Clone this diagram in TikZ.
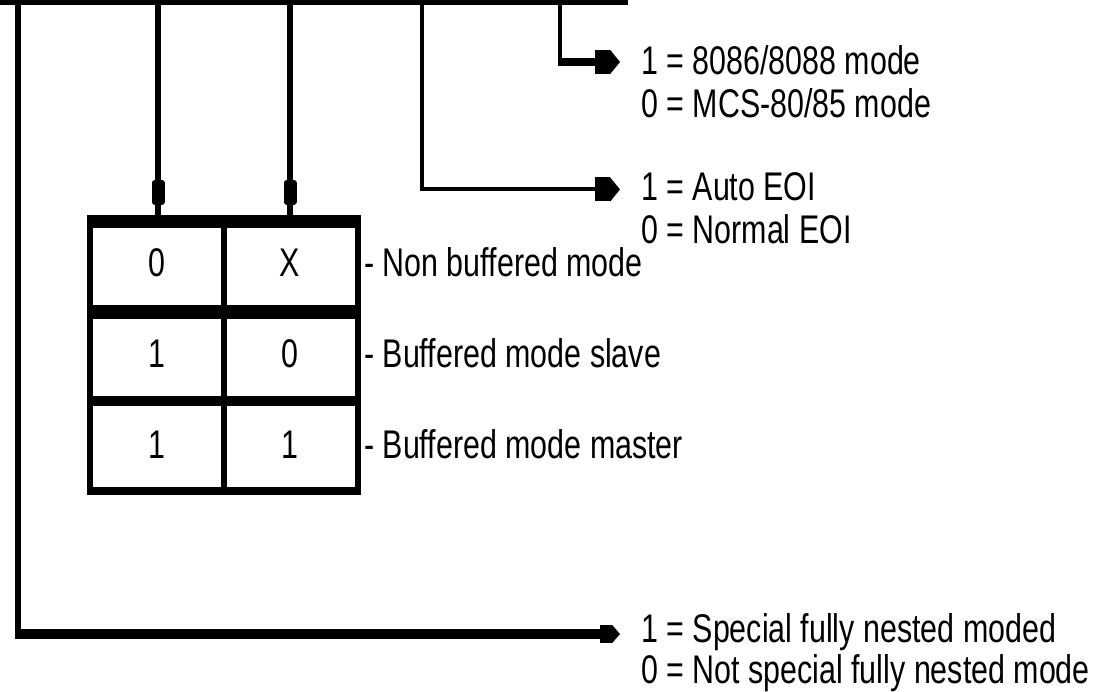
\documentclass[tikz,border=0pt]{standalone}
\usepackage{fontspec}
\setmainfont{Liberation Sans}[FakeStretch=0.76]
\usetikzlibrary{arrows.meta,decorations.markings}
\begin{document}
\begin{tikzpicture}[x=1pt,y=-1pt,
  txt/.style={inner sep=0pt, anchor=base west, font=\fontsize{40}{44}\selectfont},
  celltxt/.style={inner sep=0pt, anchor=base, font=\fontsize{40}{44}\selectfont},
  hhead/.style={-{Rectangle[length=15pt,width=24pt]Triangle[length=10pt,width=24pt]}},
  vfeed/.style={line width=6pt, postaction={decorate},
    decoration={markings, mark=at position -10pt with {\arrow{Rectangle[length=25pt,width=13pt,round]}}}}
]
\useasboundingbox (0,0) rectangle (1099,692);
\fill[white] (0,0) rectangle (1099,692);

% bus and its taps
\coordinate (busL) at (0,2.75);
\coordinate (busR) at (628,2.75);
\coordinate (tap1) at (18,0);
\coordinate (tap2) at (158,0);
\coordinate (tap3) at (290,0);
\coordinate (tap4) at (422,0);
\coordinate (tap5) at (560,0);
\draw[line width=5.5pt] (busL) -- (busR);

% table
\node[inner sep=0pt, minimum width=274pt, minimum height=280pt] (tbl) at (224,355) {};
\draw[line width=13pt] (87,221.5) -- (361,221.5);
\draw[line width=14pt] (87,312) -- (361,312);
\draw[line width=10pt] (87,401) -- (361,401);
\draw[line width=8pt] (87,491) -- (361,491);
\draw[line width=6pt] (90,215) -- (90,495);
\draw[line width=6pt] (224,215) -- (224,495);
\draw[line width=6pt] (358,215) -- (358,495);

\node[celltxt] (c11) at (157,277) {0};
\node[celltxt] (c12) at (290,277) {X};
\node[celltxt] (c21) at (157,367) {1};
\node[celltxt] (c22) at (290,367) {0};
\node[celltxt] (c31) at (157,458) {1};
\node[celltxt] (c32) at (290,458) {1};

\node[txt] (m1) at (364,277) {- Non buffered mode};
\node[txt] (m2) at (364,367) {- Buffered mode slave};
\node[txt] (m3) at (364,458) {- Buffered mode master};

% feeds into table
\draw[vfeed] (tap2) -- (tap2 |- tbl.north);
\draw[vfeed] (tap3) -- (tap3 |- tbl.north);

% right labels
\node[txt] (l1a) at (641,75) {1 = 8086/8088 mode};
\node[txt] (l1b) at (641,118) {0 = MCS-80/85 mode};
\node[txt] (l2a) at (641,201) {1 = Auto EOI};
\node[txt] (l2b) at (641,244) {0 = Normal EOI};
\node[txt] (l3a) at (641,642) {1 = Special fully nested moded};
\node[txt] (l3b) at (641,683) {0 = Not special fully nested mode};

% 8086 mode arrow
\coordinate (k5) at (560,66);
\coordinate (k5h) at (558,62);
\coordinate (e1) at (620,62);
\draw[line width=4.5pt] (tap5) -- (k5);
\draw[line width=8pt, hhead] (k5h) -- (e1);

% Auto EOI arrow
\coordinate (e2) at (620,189.5);
\draw[line width=4pt, line join=miter, hhead] (tap4) |- (e2);

% special fully nested arrow
\coordinate (k1) at (18,639);
\coordinate (k1h) at (15,634);
\coordinate (e3) at (620,634);
\draw[line width=6pt] (tap1) -- (k1);
\draw[line width=10pt, -{Rectangle[length=12pt,width=18pt]Triangle[length=8pt,width=18pt]}] (k1h) -- (e3);
\end{tikzpicture}
\end{document}
